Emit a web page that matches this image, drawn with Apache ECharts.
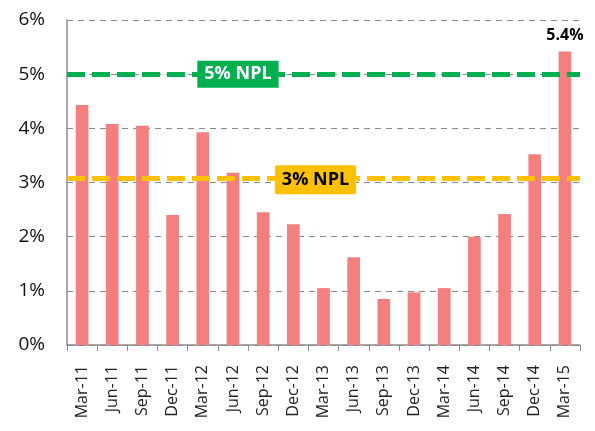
<!DOCTYPE html>
<html>
<head>
<meta charset="utf-8">
<script src="https://cdn.jsdelivr.net/npm/echarts@6/dist/echarts.min.js"></script>
<style>
  html, body { margin: 0; padding: 0; background: #fff; }
  #main { width: 595px; height: 431px; }
</style>
</head>
<body>
<div id="main"></div>
<script>
// quarters and NPL ratio (%)
var quarters = ['Mar-11', 'Jun-11', 'Sep-11', 'Dec-11', 'Mar-12', 'Jun-12', 'Sep-12', 'Dec-12',
    'Mar-13', 'Jun-13', 'Sep-13', 'Dec-13', 'Mar-14', 'Jun-14', 'Sep-14', 'Dec-14', 'Mar-15'];
var nplRatio = [4.43, 4.08, 4.05, 2.40, 3.93, 3.18, 2.45, 2.23, 1.05, 1.62, 0.85, 0.97, 1.05, 2.00, 2.42, 3.52, 5.42];

// reference levels
var refLevels = [5.0, 3.07];
var refNames = ['5% NPL', '3% NPL'];

function drawChart() {
    var myChart = echarts.init(document.getElementById('main'));

    var barData = nplRatio.map(function (v, i) {
        if (i === nplRatio.length - 1) {
            return {
                value: v,
                label: {
                    show: true,
                    position: 'top',
                    distance: 8,
                    formatter: '5.4%',
                    color: '#000',
                    fontWeight: 'bold',
                    fontSize: 16,
                    fontFamily: 'Open Sans'
                }
            };
        }
        return v;
    });

    var option = {
        animation: false,
        grid: {
            left: 67,
            right: 15,
            top: 20,
            bottom: 86
        },
        xAxis: {
            type: 'category',
            data: quarters,
            boundaryGap: true,
            axisLine: { lineStyle: { color: '#8c8c8c', width: 1.5 } },
            axisTick: { show: true, length: 6, lineStyle: { color: '#8c8c8c' } },
            axisLabel: {
                rotate: 90,
                color: '#222',
                fontSize: 16,
                fontFamily: 'Open Sans',
                margin: 20
            }
        },
        yAxis: {
            type: 'value',
            min: 0,
            max: 6,
            interval: 1,
            axisLine: { show: true, lineStyle: { color: '#8c8c8c', width: 1.5 } },
            axisTick: { show: false },
            axisLabel: {
                formatter: '{value}%',
                color: '#111',
                fontSize: 19,
                fontFamily: 'Open Sans',
                margin: 22
            },
            splitLine: {
                show: true,
                lineStyle: { color: '#8a8a8a', type: [6, 5], width: 1 }
            }
        },
        series: [
            {
                name: 'NPL',
                type: 'bar',
                data: barData,
                barWidth: '42%',
                itemStyle: { color: '#f47f7f' },
                markLine: {
                    silent: true,
                    symbol: 'none',
                    label: { show: false },
                    data: [
                        { yAxis: refLevels[0], lineStyle: { color: '#00b050', width: 5, type: [18, 7] } },
                        { yAxis: refLevels[1], lineStyle: { color: '#ffc000', width: 5, type: [18, 7] } }
                    ]
                },
                markPoint: {
                    silent: true,
                    symbol: 'rect',
                    symbolSize: 0,
                    data: [
                        {
                            coord: [5, refLevels[0]],
                            label: {
                                show: true,
                                formatter: refNames[0],
                                offset: [5, 0],
                                color: '#fff',
                                backgroundColor: '#00b050',
                                fontWeight: 'bold',
                                fontSize: 18,
                                fontFamily: 'Open Sans',
                                padding: [5, 7, 4, 7]
                            }
                        },
                        {
                            coord: [8, refLevels[1]],
                            label: {
                                show: true,
                                formatter: refNames[1],
                                offset: [-8, 1],
                                color: '#000',
                                backgroundColor: '#ffc000',
                                fontWeight: 'bold',
                                fontSize: 18,
                                fontFamily: 'Open Sans',
                                padding: [6, 7, 5, 7],
                                borderRadius: 2
                            }
                        }
                    ]
                }
            }
        ]
    };

    myChart.setOption(option);
}

drawChart();
</script>
</body>
</html>
